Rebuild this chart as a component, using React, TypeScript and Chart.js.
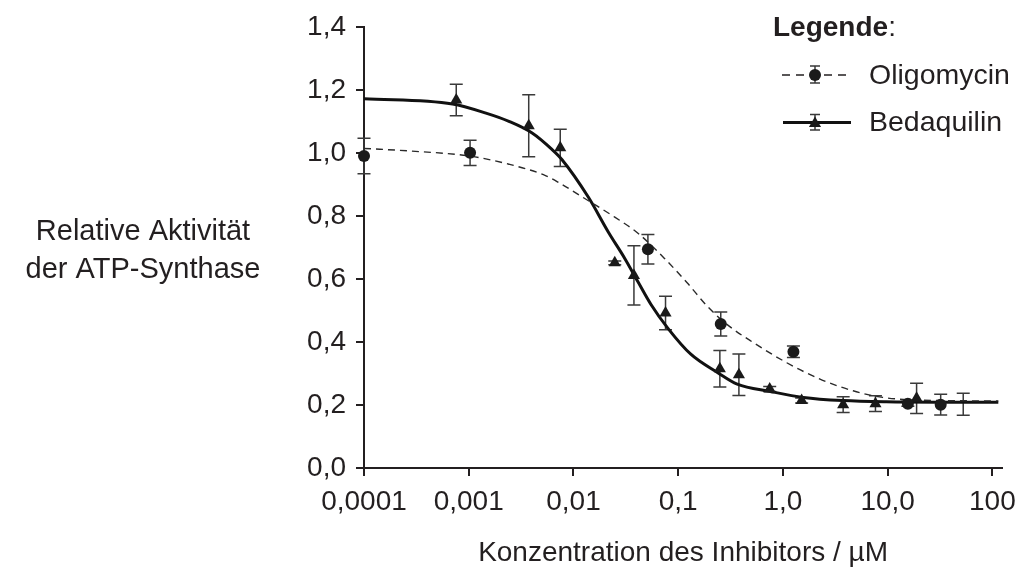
import { useEffect, useRef } from 'react';
import { Chart, registerables } from 'chart.js';

Chart.register(...registerables);

const FONT = "'Liberation Sans', Arial, Helvetica, sans-serif";
const INK = '#231f20';

// Axis ticks
const xTickValues = [0.0001, 0.001, 0.01, 0.1, 1, 10, 100];
const xTickLabels = ['0,0001', '0,001', '0,01', '0,1', '1,0', '10,0', '100'];
const yTickValues = [0, 0.2, 0.4, 0.6, 0.8, 1.0, 1.2, 1.4];
const yTickLabels = ['0,0', '0,2', '0,4', '0,6', '0,8', '1,0', '1,2', '1,4'];

// Oligomycin measurements (mean, error)
const oligoX = [0.0001, 0.00103, 0.0514, 0.255, 1.26, 15.6, 32.1, 52.7];
const oligoY = [0.99, 1.0, 0.694, 0.457, 0.369, 0.204, 0.201, 0.202];
const oligoErr = [0.056, 0.04, 0.047, 0.038, 0.018, 0.008, 0.033, 0.035];
const oligoMarker = [true, true, true, true, true, true, true, false];

// Bedaquilin measurements (mean, error)
const bedaX = [0.00076, 0.00374, 0.00748, 0.0248, 0.0378, 0.0757, 0.25, 0.38, 0.748, 1.51, 3.76, 7.65, 18.9];
const bedaY = [1.168, 1.086, 1.016, 0.651, 0.611, 0.492, 0.315, 0.296, 0.251, 0.214, 0.201, 0.204, 0.221];
const bedaErr = [0.05, 0.098, 0.059, 0.006, 0.094, 0.053, 0.058, 0.066, 0.008, 0.008, 0.025, 0.025, 0.048];

// Fitted curves
const oligoFitX = [0.0001, 0.000273, 0.00101, 0.00242, 0.0054, 0.00721, 0.0139, 0.0248, 0.0413, 0.074, 0.123, 0.19, 0.294, 0.527, 1.09, 2.26, 4.68, 8.99, 30, 114];
const oligoFitY = [1.014, 1.006, 0.99, 0.964, 0.928, 0.906, 0.848, 0.796, 0.745, 0.665, 0.586, 0.513, 0.455, 0.397, 0.334, 0.282, 0.245, 0.224, 0.214, 0.213];
const bedaFitX = [0.0001, 0.0007, 0.00146, 0.00242, 0.00403, 0.00623, 0.00775, 0.0139, 0.0215, 0.0309, 0.0413, 0.0552, 0.0795, 0.132, 0.237, 0.366, 0.759, 1.57, 3.76, 9.68, 30, 114];
const bedaFitY = [1.172, 1.155, 1.126, 1.1, 1.063, 1.011, 0.979, 0.859, 0.749, 0.665, 0.591, 0.518, 0.444, 0.361, 0.303, 0.266, 0.243, 0.224, 0.214, 0.21, 0.209, 0.209];

const legendItems = ['Oligomycin', 'Bedaquilin'];
const yTitleLines = ['Relative Aktivität', 'der ATP-Synthase'];
const xTitle = 'Konzentration des Inhibitors / µM';

function drawTriangle(ctx: CanvasRenderingContext2D, x: number, y: number, r: number) {
  ctx.beginPath();
  ctx.moveTo(x, y - r);
  ctx.lineTo(x + r * Math.sin((2 * Math.PI) / 3), y + r / 2);
  ctx.lineTo(x - r * Math.sin((2 * Math.PI) / 3), y + r / 2);
  ctx.closePath();
  ctx.fill();
}

function drawErr(ctx: CanvasRenderingContext2D, x: number, y1: number, y2: number, cap: number) {
  ctx.beginPath();
  ctx.moveTo(x, y1);
  ctx.lineTo(x, y2);
  ctx.moveTo(x - cap, y1);
  ctx.lineTo(x + cap, y1);
  ctx.moveTo(x - cap, y2);
  ctx.lineTo(x + cap, y2);
  ctx.stroke();
}

const errorBarPlugin = {
  id: 'errorBars',
  beforeDatasetsDraw(chart: any) {
    const ctx = chart.ctx as CanvasRenderingContext2D;
    const xs = chart.scales.x;
    const ys = chart.scales.y;
    ctx.save();
    ctx.strokeStyle = '#3a3a3a';
    ctx.lineWidth = 1.5;
    const series: [number[], number[], number[]][] = [
      [oligoX, oligoY, oligoErr],
      [bedaX, bedaY, bedaErr],
    ];
    for (const [xv, yv, ev] of series) {
      for (let i = 0; i < xv.length; i++) {
        const px = xs.getPixelForValue(xv[i]);
        const top = ys.getPixelForValue(yv[i] + ev[i]);
        const bot = ys.getPixelForValue(yv[i] - ev[i]);
        drawErr(ctx, px, top, bot, 6.5);
      }
    }
    ctx.restore();
  },
};

const annotationPlugin = {
  id: 'annotations',
  afterDraw(chart: any) {
    const ctx = chart.ctx as CanvasRenderingContext2D;
    ctx.save();
    ctx.fillStyle = INK;
    ctx.strokeStyle = INK;
    // Y title (horizontal, two lines)
    ctx.font = `29px ${FONT}`;
    ctx.textAlign = 'center';
    ctx.textBaseline = 'middle';
    ctx.fillText(yTitleLines[0], 143, 232);
    ctx.fillText(yTitleLines[1], 143, 270);

    // Legend header
    ctx.textAlign = 'left';
    ctx.textBaseline = 'alphabetic';
    ctx.font = `bold 28px ${FONT}`;
    ctx.fillText('Legende', 773, 36);
    const w = ctx.measureText('Legende').width;
    ctx.font = `28px ${FONT}`;
    ctx.fillText(':', 773 + w, 36);

    // Legend item labels
    ctx.font = `28.5px ${FONT}`;
    ctx.fillText(legendItems[0], 869, 84);
    ctx.fillText(legendItems[1], 869, 131);

    // Oligomycin icon
    const y1 = 75;
    ctx.lineWidth = 1.5;
    ctx.setLineDash([8, 6]);
    ctx.beginPath();
    ctx.moveTo(782, y1);
    ctx.lineTo(852, y1);
    ctx.stroke();
    ctx.setLineDash([]);
    ctx.strokeStyle = '#3a3a3a';
    drawErr(ctx, 815, y1 - 9, y1 + 8, 5);
    ctx.fillStyle = '#1a1a1a';
    ctx.beginPath();
    ctx.arc(815, y1, 6, 0, Math.PI * 2);
    ctx.fill();

    // Bedaquilin icon
    const y2 = 122.5;
    ctx.strokeStyle = '#111';
    ctx.lineWidth = 3;
    ctx.beginPath();
    ctx.moveTo(783, y2);
    ctx.lineTo(851, y2);
    ctx.stroke();
    ctx.strokeStyle = '#3a3a3a';
    ctx.lineWidth = 1.5;
    drawErr(ctx, 815, y2 - 8, y2 + 7.5, 5);
    ctx.fillStyle = '#1a1a1a';
    drawTriangle(ctx, 815, y2 + 1, 7);
    ctx.restore();
  },
};

export default function App() {
  const ref = useRef<HTMLCanvasElement | null>(null);

  useEffect(() => {
    if (!ref.current) return;
    const chart = new Chart(ref.current, {
      type: 'scatter',
      data: {
        datasets: [
          {
            label: legendItems[0],
            data: oligoX.map((x, i) => ({ x, y: oligoY[i] })),
            pointStyle: 'circle',
            pointRadius: (c: any) => (oligoMarker[c.dataIndex] ? 6 : 0),
            pointBackgroundColor: '#1a1a1a',
            pointBorderWidth: 0,
            showLine: false,
            clip: false,
          } as any,
          {
            label: legendItems[1],
            data: bedaX.map((x, i) => ({ x, y: bedaY[i] })),
            pointStyle: 'triangle',
            pointRadius: 7,
            pointBackgroundColor: '#1a1a1a',
            pointBorderWidth: 0,
            showLine: false,
            clip: false,
          } as any,
          {
            label: 'Oligomycin fit',
            data: oligoFitX.map((x, i) => ({ x, y: oligoFitY[i] })),
            showLine: true,
            borderColor: '#2a2a2a',
            borderWidth: 1.4,
            borderDash: [7, 5],
            pointRadius: 0,
            cubicInterpolationMode: 'monotone',
            fill: false,
            clip: false,
          } as any,
          {
            label: 'Bedaquilin fit',
            data: bedaFitX.map((x, i) => ({ x, y: bedaFitY[i] })),
            showLine: true,
            borderColor: '#111',
            borderWidth: 3,
            pointRadius: 0,
            cubicInterpolationMode: 'monotone',
            fill: false,
            clip: false,
          } as any,
        ],
      },
      options: {
        animation: false,
        responsive: false,
        devicePixelRatio: 1,
        events: [],
        layout: { padding: { left: 0, top: 23, right: 18, bottom: 0 } },
        plugins: {
          legend: { display: false },
          tooltip: { enabled: false },
          title: { display: false },
        },
        scales: {
          x: {
            type: 'logarithmic',
            min: 0.0001,
            max: 124,
            afterBuildTicks: (s: any) => {
              s.ticks = xTickValues.map((v) => ({ value: v }));
            },
            afterFit: (s: any) => {
              s.height = 104;
            },
            ticks: {
              autoSkip: false,
              maxRotation: 0,
              padding: 9,
              color: INK,
              font: { family: FONT, size: 28 },
              callback: (v: any) => {
                const i = xTickValues.findIndex((t) => Math.abs(Math.log10(t) - Math.log10(Number(v))) < 1e-6);
                return i >= 0 ? xTickLabels[i] : '';
              },
            },
            grid: {
              display: true,
              drawOnChartArea: false,
              drawTicks: true,
              tickLength: 8,
              color: INK,
              lineWidth: 2,
            },
            border: { display: true, color: INK, width: 2 },
            title: {
              display: true,
              text: xTitle,
              color: INK,
              font: { family: FONT, size: 28 },
              padding: { top: 0, bottom: 2 },
            },
          },
          y: {
            type: 'linear',
            min: 0,
            max: 1.4,
            afterBuildTicks: (s: any) => {
              s.ticks = yTickValues.map((v) => ({ value: v }));
            },
            afterFit: (s: any) => {
              s.width = 364;
            },
            ticks: {
              padding: 10,
              color: INK,
              font: { family: FONT, size: 28 },
              callback: (v: any) => {
                const i = yTickValues.findIndex((t) => Math.abs(t - Number(v)) < 1e-6);
                return i >= 0 ? yTickLabels[i] : '';
              },
            },
            grid: {
              display: true,
              drawOnChartArea: false,
              drawTicks: true,
              tickLength: 8,
              color: INK,
              lineWidth: 2,
            },
            border: { display: true, color: INK, width: 2 },
          },
        },
      } as any,
      plugins: [errorBarPlugin, annotationPlugin],
    });
    return () => chart.destroy();
  }, []);

  return (
    <div style={{ position: 'fixed', left: 0, top: 0, width: 1025, height: 572, background: '#fff' }}>
      <canvas ref={ref} width={1025} height={572} style={{ display: 'block', width: 1025, height: 572 }} />
    </div>
  );
}
